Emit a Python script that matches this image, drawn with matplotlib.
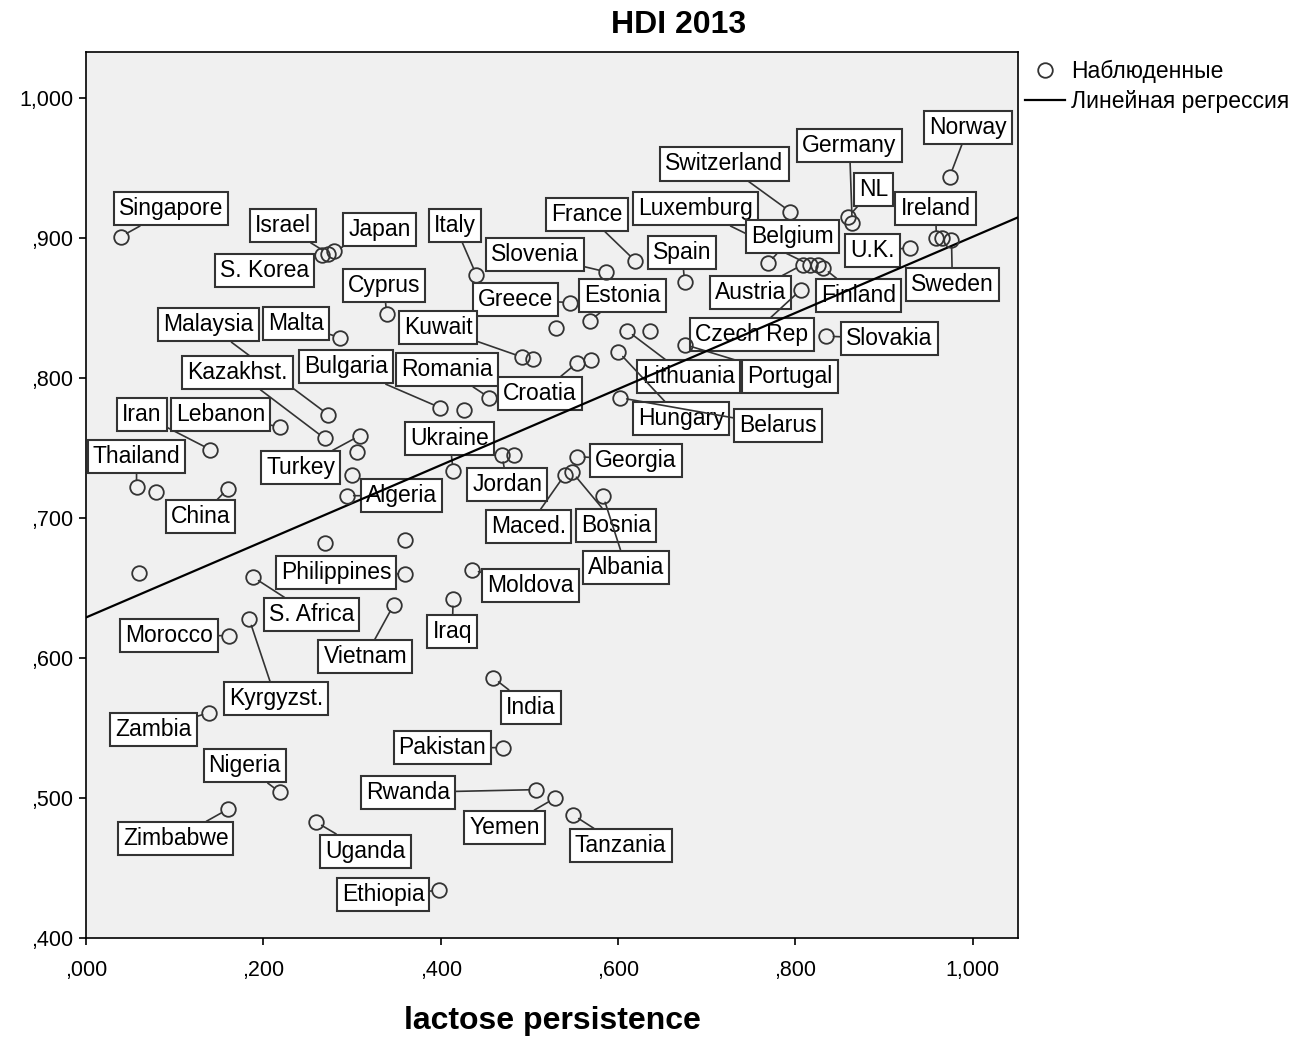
import numpy as np
import matplotlib.pyplot as plt
from matplotlib.ticker import FuncFormatter

plt.rcParams['font.family'] = ['Liberation Sans', 'DejaVu Sans']

# labelled countries: lactose persistence vs HDI 2013
countries = ['Singapore', 'Israel', 'Japan', 'S. Korea', 'Cyprus', 'Malaysia', 'Malta',
             'Kazakhst.', 'Bulgaria', 'Italy', 'France', 'Slovenia', 'Greece', 'Estonia',
             'Kuwait', 'Romania', 'Croatia', 'Switzerland', 'Luxemburg', 'Spain', 'Germany',
             'Norway', 'NL', 'Ireland', 'Belgium', 'U.K.', 'Austria', 'Finland', 'Sweden',
             'Czech Rep', 'Slovakia', 'Portugal', 'Lithuania', 'Hungary', 'Belarus', 'Iran',
             'Lebanon', 'Thailand', 'China', 'Turkey', 'Algeria', 'Ukraine', 'Jordan',
             'Georgia', 'Maced.', 'Bosnia', 'Albania', 'Moldova', 'Iraq', 'Philippines',
             'S. Africa', 'Morocco', 'Vietnam', 'Kyrgyzst.', 'Zambia', 'Nigeria', 'Zimbabwe',
             'Uganda', 'Ethiopia', 'India', 'Pakistan', 'Rwanda', 'Yemen', 'Tanzania']
lactose = [0.039, 0.273, 0.280, 0.266, 0.339, 0.273, 0.286,
           0.269, 0.399, 0.440, 0.619, 0.586, 0.546, 0.568,
           0.492, 0.455, 0.554, 0.794, 0.816, 0.675, 0.864,
           0.974, 0.859, 0.959, 0.769, 0.929, 0.808, 0.831, 0.976,
           0.806, 0.835, 0.675, 0.610, 0.600, 0.602, 0.140,
           0.219, 0.057, 0.160, 0.309, 0.294, 0.414, 0.469,
           0.554, 0.540, 0.548, 0.583, 0.435, 0.414, 0.360,
           0.188, 0.161, 0.347, 0.184, 0.139, 0.219, 0.160,
           0.259, 0.398, 0.459, 0.470, 0.508, 0.529, 0.549]
hdi = [0.901, 0.889, 0.891, 0.888, 0.846, 0.774, 0.829,
       0.757, 0.779, 0.874, 0.884, 0.876, 0.854, 0.841,
       0.815, 0.786, 0.811, 0.919, 0.881, 0.869, 0.911,
       0.944, 0.915, 0.900, 0.882, 0.893, 0.881, 0.879, 0.899,
       0.863, 0.830, 0.824, 0.834, 0.819, 0.786, 0.749,
       0.765, 0.722, 0.721, 0.759, 0.716, 0.734, 0.745,
       0.744, 0.731, 0.733, 0.716, 0.663, 0.642, 0.660,
       0.658, 0.616, 0.638, 0.628, 0.561, 0.504, 0.492,
       0.483, 0.434, 0.586, 0.536, 0.506, 0.500, 0.488]

# unlabelled observations
other_lactose = [0.426, 0.530, 0.636, 0.504, 0.569, 0.965, 0.825, 0.079,
                 0.306, 0.300, 0.483, 0.269, 0.360, 0.060]
other_hdi = [0.777, 0.836, 0.834, 0.814, 0.813, 0.900, 0.881, 0.719,
             0.747, 0.731, 0.745, 0.682, 0.684, 0.661]

# regression line
fit_intercept = 0.629
fit_slope = 0.272

# label box centres (layout, data units)
label_x = [0.096, 0.222, 0.331, 0.201, 0.336, 0.138, 0.237,
           0.171, 0.293, 0.416, 0.565, 0.506, 0.484, 0.605,
           0.397, 0.407, 0.512, 0.720, 0.687, 0.672, 0.861,
           0.995, 0.888, 0.958, 0.797, 0.887, 0.749, 0.871, 0.977,
           0.751, 0.906, 0.794, 0.679, 0.671, 0.780, 0.063,
           0.152, 0.057, 0.129, 0.242, 0.356, 0.410, 0.475,
           0.620, 0.499, 0.598, 0.609, 0.501, 0.413, 0.282,
           0.254, 0.094, 0.315, 0.214, 0.076, 0.179, 0.101,
           0.315, 0.335, 0.502, 0.402, 0.363, 0.472, 0.603]
label_y = [0.921, 0.909, 0.906, 0.877, 0.866, 0.838, 0.839,
           0.804, 0.808, 0.909, 0.917, 0.888, 0.856, 0.859,
           0.836, 0.806, 0.789, 0.953, 0.921, 0.890, 0.966,
           0.979, 0.935, 0.921, 0.901, 0.891, 0.861, 0.859, 0.867,
           0.831, 0.828, 0.801, 0.801, 0.771, 0.766, 0.774,
           0.774, 0.744, 0.701, 0.736, 0.716, 0.757, 0.724,
           0.741, 0.694, 0.695, 0.665, 0.652, 0.619, 0.661,
           0.631, 0.616, 0.601, 0.571, 0.549, 0.523, 0.471,
           0.462, 0.431, 0.565, 0.536, 0.504, 0.479, 0.466]

edge = '#333333'
fig = plt.figure(figsize=(13.02, 10.38), dpi=100)
ax = fig.add_axes([86 / 1302, 1 - 938 / 1038, 932 / 1302, 886 / 1038])
ax.set_facecolor('#f0f0f0')

all_x = lactose + other_lactose
all_y = hdi + other_hdi
ax.plot(all_x, all_y, 'o', ms=10.5, mfc='none', mec=edge, mew=1.3, zorder=5,
        label='Наблюденные')

xs = np.array([0.0, 1.06])
ax.plot(xs, fit_intercept + fit_slope * xs, '-', color='black', lw=1.6, zorder=4,
        label='Линейная регрессия')

for name, px, py, lx, ly in zip(countries, lactose, hdi, label_x, label_y):
    ax.annotate(name, xy=(px, py), xytext=(lx, ly), ha='center', va='center',
                fontsize=16.5, color='black', zorder=3,
                bbox=dict(boxstyle='square,pad=0.22', fc='white', ec=edge, lw=1.5),
                arrowprops=dict(arrowstyle='-', color=edge, lw=1.2, shrinkA=0, shrinkB=5))

ax.set_xlim(0, 1.051)
ax.set_ylim(0.4, 1.033)
ax.set_xticks(np.arange(0, 1.01, 0.2))
ax.set_yticks(np.arange(0.4, 1.01, 0.1))


def spss_fmt(v, pos):
    s = f'{v:.3f}'.replace('.', ',')
    return s[1:] if s.startswith('0') else s


ax.xaxis.set_major_formatter(FuncFormatter(spss_fmt))
ax.yaxis.set_major_formatter(FuncFormatter(spss_fmt))
ax.tick_params(direction='out', length=5, width=1.2, labelsize=15.5, pad=4)
ax.tick_params(axis='x', pad=11)
for sp in ax.spines.values():
    sp.set_linewidth(1.2)

ax.set_xlabel('lactose persistence', fontsize=23, fontweight='bold', labelpad=18)
fig.text(679 / 1302, 1 - 25 / 1038, 'HDI 2013', ha='center', va='center',
         fontsize=23, fontweight='bold')

ax.legend(loc='upper left', bbox_to_anchor=(1.0075, 0.991), frameon=False, fontsize=16.5,
          handlelength=1.75, handletextpad=0.25, labelspacing=0.3, borderpad=0,
          borderaxespad=0)

fig.savefig('out.png', dpi=100)
